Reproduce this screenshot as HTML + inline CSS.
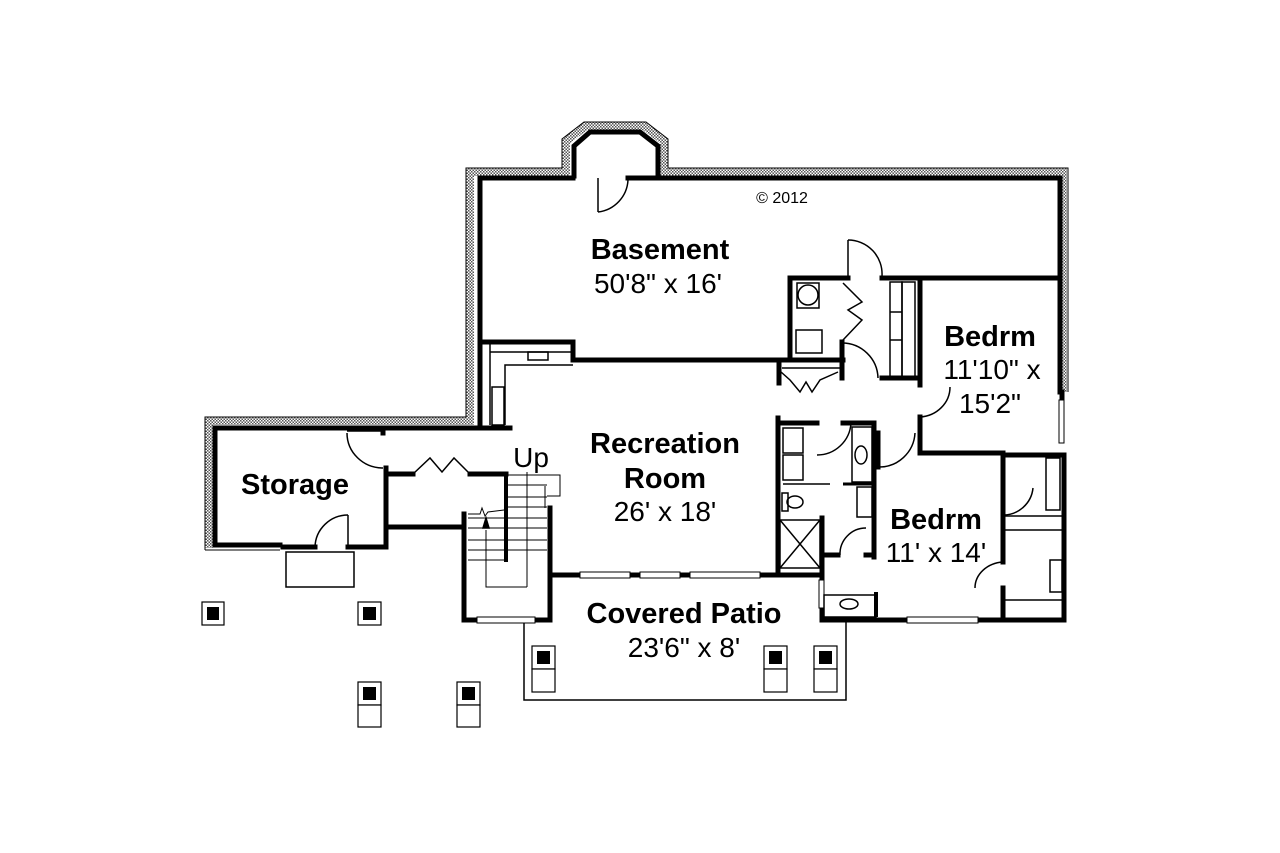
<!DOCTYPE html>
<html><head><meta charset="utf-8"><style>
html,body{margin:0;padding:0;background:#fff;}
svg{display:block;}
text{font-family:"Liberation Sans",Arial,sans-serif;fill:#000;}
.b{font-weight:bold;font-size:29px;}
.n{font-size:28px;}
</style></head><body>
<svg width="1280" height="853" viewBox="0 0 1280 853" xmlns="http://www.w3.org/2000/svg">
<defs>
<pattern id="h" width="3" height="3" patternUnits="userSpaceOnUse">
<rect width="3" height="3" fill="#fff"/><rect width="1.5" height="1.5" fill="#555"/><rect x="1.5" y="1.5" width="1.5" height="1.5" fill="#555"/>
</pattern>
</defs>
<g fill="none" stroke="url(#h)" stroke-width="8">
<polyline points="209,548 209,421 470,421 470,172 566,172 566,141 586,126 644,126 664,141 664,172 1063,172 1063,392"/>
</g>
<g fill="none" stroke="#000" stroke-width="1">
<polyline points="205,550 205,417 466,417 466,168 562,168 562,139 584,122 646,122 668,139 668,168 1068,168 1068,392"/>
<line x1="205" y1="550" x2="280" y2="550"/>
</g>
<g fill="none" stroke="#000" stroke-width="5" stroke-linecap="square">
<polyline points="574,176 574,146 590,132 640,132 658,146 658,176"/>
<polyline points="480,178 573,178"/><polyline points="628,178 1060,178"/>
<polyline points="1060,178 1060,392"/>
<polyline points="480,178 480,425"/>
<polyline points="215,428 510,428"/>
<polyline points="215,428 215,545 280,545"/>
<polyline points="283,547 315,547"/><polyline points="348,547 386,547 386,468"/>
<polyline points="383,428 383,433"/>
<polyline points="387,474 413,474"/><polyline points="470,474 506,474"/>
<polyline points="387,527 463,527"/>
<polyline points="464,514 464,620 550,620 550,508"/>
<polyline points="551,575 822,575"/>
<polyline points="480,342 573,342 573,360 843,360"/>
<polyline points="790,278 790,360"/>
<polyline points="790,278 848,278"/><polyline points="882,278 1057,278"/>
<polyline points="842,342 842,378"/>
<polyline points="882,378 920,378"/>
<polyline points="920,278 920,385"/>
<polyline points="920,417 920,453 1003,453"/>
<polyline points="778,418 778,572"/>
<polyline points="778,423 817,423"/><polyline points="843,423 874,423 874,557"/>
<polyline points="822,518 822,620 1064,620 1064,455 1003,455"/>
<polyline points="1003,453 1003,562"/><polyline points="1003,588 1003,620"/>
<polyline points="822,555 838,555"/><polyline points="866,555 874,555"/>
<polyline points="878,433 878,467"/>
<polyline points="779,363 779,383"/>
<polyline points="1062,392 1062,400"/>
</g>
<g fill="none" stroke="#000" stroke-width="1.5">
<line x1="598" y1="178" x2="598" y2="212"/><path d="M598,212 A34,34 0 0 0 628,180"/>
<line x1="848" y1="240" x2="848" y2="278"/><path d="M848,240 A34,34 0 0 1 882,276"/>
<line x1="347" y1="431" x2="383" y2="431"/><path d="M347,433 A36,35 0 0 0 383,468"/>
<line x1="348" y1="515" x2="348" y2="547"/><path d="M348,515 A33,33 0 0 0 315,547"/>
<path d="M950,387 A32,30 0 0 1 920,417"/>
<path d="M842,343 A36,36 0 0 1 878,378"/>
<path d="M817,455 A34,34 0 0 0 851,423"/>
<path d="M878,467 A36,36 0 0 0 915,433"/>
<path d="M840,555 A26,26 0 0 1 866,528"/>
<path d="M1003,562 A30,26 0 0 0 975,588"/>
<path d="M1003,515 A30,30 0 0 0 1033,488"/>
<polyline points="413,474 430,458 442,472 454,458 470,474"/>
<polyline points="843,283 862,302 848,310 862,320 843,340"/>
<polyline points="781,372 790,380 800,392 806,382 812,392 820,380 838,372"/>
<rect x="797" y="283" width="22" height="25"/><circle cx="808" cy="295" r="10"/>
<rect x="796" y="330" width="26" height="23"/>
<line x1="782" y1="368" x2="840" y2="368"/>
<rect x="890" y="282" width="12" height="95"/><rect x="902" y="282" width="13" height="95"/>
<line x1="890" y1="312" x2="902" y2="312"/><line x1="890" y1="340" x2="902" y2="340"/>
<polyline points="490,343 490,425"/><polyline points="505,425 505,365 573,365"/>
<line x1="490" y1="352" x2="573" y2="352"/><rect x="528" y="352" width="20" height="8"/>
<rect x="492" y="387" width="12" height="38"/>
<g stroke-width="1">
<line x1="506" y1="475" x2="547" y2="475"/><line x1="506" y1="485" x2="547" y2="485"/>
<line x1="506" y1="497" x2="547" y2="497"/><line x1="506" y1="507" x2="547" y2="507"/>
<line x1="468" y1="518" x2="547" y2="518"/><line x1="468" y1="528" x2="547" y2="528"/>
<line x1="468" y1="540" x2="547" y2="540"/><line x1="468" y1="550" x2="547" y2="550"/>
<line x1="468" y1="560" x2="506" y2="560"/>
<line x1="527" y1="472" x2="527" y2="587"/>
<polyline points="486,530 486,587 527,587"/>
<polyline points="547,475 560,475 560,496 547,496"/>
<line x1="545" y1="486" x2="545" y2="508"/>
</g>
<line x1="506" y1="473" x2="506" y2="562" stroke-width="4"/>
<polygon points="486,518 483,528 489,528" fill="#000"/>
<polyline points="468,514 480,514 482,508 485,516 488,512 504,510" stroke-width="1"/>
<rect x="286" y="552" width="68" height="35"/>
<polyline points="524,622 524,700 846,700 846,620"/>
<g stroke-width="1">
<rect x="477" y="617" width="58" height="6" fill="#fff"/>
<rect x="580" y="572" width="50" height="6" fill="#fff"/><rect x="640" y="572" width="40" height="6" fill="#fff"/><rect x="690" y="572" width="70" height="6" fill="#fff"/>
<rect x="907" y="617" width="71" height="6" fill="#fff"/>
<rect x="1059" y="400" width="5" height="43" fill="#fff"/>
<rect x="819" y="580" width="5" height="28" fill="#fff"/>
</g>
<rect x="783" y="428" width="20" height="25"/><rect x="783" y="455" width="20" height="25"/>
<line x1="783" y1="484" x2="830" y2="484"/>
<rect x="852" y="427" width="20" height="55"/><ellipse cx="861" cy="455" rx="6" ry="9"/>
<line x1="843" y1="484" x2="872" y2="484" stroke-width="3"/>
<rect x="857" y="487" width="15" height="30"/>
<rect x="782" y="493" width="6" height="18"/><ellipse cx="795" cy="502" rx="8" ry="6"/>
<rect x="780" y="520" width="40" height="48"/><line x1="780" y1="520" x2="820" y2="568"/><line x1="820" y1="520" x2="780" y2="568"/>
<rect x="824" y="595" width="52" height="22"/><ellipse cx="849" cy="604" rx="9" ry="5"/>
<line x1="876" y1="592" x2="876" y2="617" stroke-width="4"/>
<line x1="1003" y1="516" x2="1062" y2="516"/><line x1="1003" y1="530" x2="1062" y2="530"/>
<line x1="1003" y1="600" x2="1062" y2="600"/>
<rect x="1046" y="458" width="14" height="52"/><rect x="1050" y="560" width="12" height="32"/>
</g>
<g stroke="#000" stroke-width="1.2" fill="#fff">
<rect x="202" y="602" width="22" height="23"/><rect x="358" y="602" width="23" height="23"/>
<rect x="358" y="682" width="23" height="23"/><rect x="358" y="705" width="23" height="22"/>
<rect x="457" y="682" width="23" height="23"/><rect x="457" y="705" width="23" height="22"/>
<rect x="532" y="646" width="23" height="23"/><rect x="532" y="669" width="23" height="23"/>
<rect x="764" y="646" width="23" height="23"/><rect x="764" y="669" width="23" height="23"/>
<rect x="814" y="646" width="23" height="23"/><rect x="814" y="669" width="23" height="23"/>
</g>
<g fill="#000">
<rect x="207" y="607" width="12" height="13"/><rect x="363" y="607" width="13" height="13"/>
<rect x="363" y="687" width="13" height="13"/><rect x="462" y="687" width="13" height="13"/>
<rect x="537" y="651" width="13" height="13"/><rect x="769" y="651" width="13" height="13"/><rect x="819" y="651" width="13" height="13"/>
</g>
<text x="782" y="203" font-size="16" text-anchor="middle">© 2012</text>
<text x="660" y="259" class="b" text-anchor="middle">Basement</text>
<text x="658" y="293" class="n" text-anchor="middle">50'8" x 16'</text>
<text x="990" y="346" class="b" text-anchor="middle">Bedrm</text>
<text x="992" y="379" class="n" text-anchor="middle">11'10" x</text>
<text x="990" y="413" class="n" text-anchor="middle">15'2"</text>
<text x="665" y="453" class="b" text-anchor="middle">Recreation</text>
<text x="665" y="488" class="b" text-anchor="middle">Room</text>
<text x="665" y="521" class="n" text-anchor="middle">26' x 18'</text>
<text x="936" y="529" class="b" text-anchor="middle">Bedrm</text>
<text x="936" y="562" class="n" text-anchor="middle">11' x 14'</text>
<text x="684" y="623" class="b" text-anchor="middle">Covered Patio</text>
<text x="684" y="657" class="n" text-anchor="middle">23'6" x 8'</text>
<text x="295" y="494" class="b" text-anchor="middle">Storage</text>
<text x="531" y="467" class="n" text-anchor="middle">Up</text>
</svg>
</body></html>
